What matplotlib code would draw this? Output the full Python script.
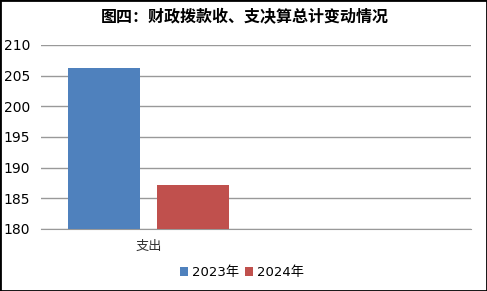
import matplotlib.pyplot as plt
from matplotlib.patches import Rectangle

plt.rcParams['font.family'] = ['DejaVu Sans', 'Noto Sans CJK SC']

categories = ['支出', '']
series_names = ['2023年', '2024年']
values_2023 = [206.2, None]
values_2024 = [187.1, None]
colors = ['#4f81bd', '#c0504d']

fig = plt.figure(figsize=(4.87, 2.91), dpi=100)
ax = fig.add_axes([0.0842, 0.2131, 0.8830, 0.6323])

x = list(range(len(categories)))
w = 0.335
off = 0.207
for vals, name, c, sign in [(values_2023, series_names[0], colors[0], -1),
                            (values_2024, series_names[1], colors[1], 1)]:
    xs = [i + sign * off for i, v in zip(x, vals) if v is not None]
    hs = [v - 180 for v in vals if v is not None]
    ax.bar(xs, hs, width=w, bottom=180, color=c, label=name, zorder=3)

ax.set_xlim(-0.5, 1.5)
ax.set_ylim(180, 210)
ax.set_yticks(range(180, 211, 5))
ax.set_xticks(x)
ax.set_xticklabels(categories, fontsize=9.5, color='#333333',
                   family=['Noto Sans CJK SC', 'DejaVu Sans'])
ax.tick_params(axis='both', length=0)
ax.tick_params(axis='y', labelsize=10, pad=8)
ax.tick_params(axis='x', pad=8)
ax.grid(axis='y', color='#999999', linewidth=1, zorder=0)
for s in ['top', 'right', 'left']:
    ax.spines[s].set_visible(False)
ax.spines['bottom'].set_color('#999999')

fig.text(0.503, 0.94, '图四：财政拨款收、支决算总计变动情况', ha='center', va='center',
         fontsize=11.5, fontweight='bold', family=['Noto Sans CJK SC', 'DejaVu Sans'])

fig.legend(loc='center', bbox_to_anchor=(0.497, 0.063), ncol=2, frameon=False,
           fontsize=9.5, handlelength=0.6, handleheight=0.6, handletextpad=0.3,
           columnspacing=0.4)

fig.patches.append(Rectangle((0, 0), 1, 1, transform=fig.transFigure,
                             fill=False, edgecolor='black', linewidth=2))

fig.savefig('out.png', dpi=100)
